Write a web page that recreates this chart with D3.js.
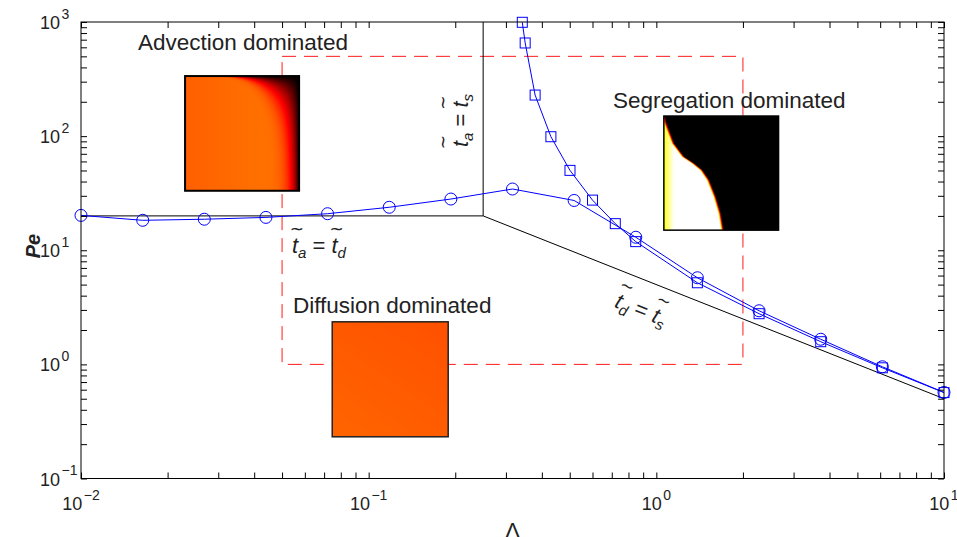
<!DOCTYPE html>
<html><head><meta charset="utf-8">
<script src="https://cdn.jsdelivr.net/npm/d3@7"></script>
<style>
body{margin:0;background:#fff}
svg{display:block}
text{font-family:"Liberation Sans",Arial,Helvetica,sans-serif}
</style>
</head><body>
<svg id="chart" width="957" height="537"></svg>
<script>
// ---------- data ----------
const lambdaCircles = [0.01, 0.01639, 0.02683, 0.04394, 0.07197, 0.1179, 0.1931, 0.3162, 0.5179, 0.8483, 1.389, 2.276, 3.728, 6.105, 10];
const peCircles     = [20.2, 18.3, 18.7, 19.4, 20.9, 23.8, 28.1, 34.4, 27.3, 13.0, 5.74, 2.95, 1.66, 0.953, 0.568];
const lambdaSquares = [0.342, 0.350, 0.379, 0.430, 0.501, 0.600, 0.720, 0.848, 1.389, 2.276, 3.728, 6.105, 10];
const peSquares     = [994, 655, 229, 98.8, 50.1, 27.5, 17.1, 11.9, 5.19, 2.78, 1.58, 0.933, 0.566];

// regime boundaries
const tatdLambda = [0.01, 0.25], tatdPe = [20, 20];
const tatsLambda = [0.25, 0.25], tatsPe = [20, 1000];
const tdtsLambda = [0.25, 10],   tdtsPe = [20, 0.5];
// dashed region
const regionLambda = [0.05, 2], regionPe = [1, 500];

// tick labels (exponents)
const xTickExps = [-2, -1, 0, 1];
const yTickExps = [-1, 0, 1, 2, 3];

// region labels
const regionLabels = ["Advection dominated", "Segregation dominated", "Diffusion dominated"];
const regionLabelLambda = [0.01578, 0.7063, 0.05455];
const regionLabelPe = [568, 176, 2.82];

// insets (data-space extents)
const insetNames = ["advection", "segregation", "diffusion"];
const insetLambdaLeft  = [0.023, 1.062, 0.0747];
const insetLambdaRight = [0.0573, 2.66, 0.189];
const insetPeTop    = [336, 150, 2.36];
const insetPeBottom = [33.2, 15.0, 0.232];
// segregation front shape (normalised inset coords)
const segFrontW = [0, 0.064, 0.24, 0.357, 0.415, 0.474, 0.561, 0.708, 0.854, 1.0];
const segFrontU = [0, 0.017, 0.081, 0.169, 0.256, 0.328, 0.387, 0.445, 0.488, 0.512];

// ---------- chart ----------
const svg = d3.select("#chart");
const x = d3.scaleLog().domain([0.01, 10]).range([81, 944]);
const y = d3.scaleLog().domain([0.1, 1000]).range([478.5, 22]);
const TXT = "#222";

function logTicks(lo, hi) {
  const t = [];
  for (let e = lo; e < hi; e++) for (let m = 1; m <= 9; m++) t.push(m * Math.pow(10, e));
  t.push(Math.pow(10, hi));
  return t;
}
const xt = logTicks(-2, 1), yt = logTicks(-1, 3);

// dashed region
svg.append("rect")
  .attr("x", x(regionLambda[0])).attr("y", y(regionPe[1]))
  .attr("width", x(regionLambda[1]) - x(regionLambda[0]))
  .attr("height", y(regionPe[0]) - y(regionPe[1]))
  .attr("fill", "none").attr("stroke", "#ff1a1a").attr("stroke-width", 1)
  .attr("stroke-dasharray", "14,8");

// insets
function hot(v) {
  v = Math.max(0, Math.min(1, v));
  const r = Math.min(1, v / 0.375);
  const g = Math.max(0, Math.min(1, (v - 0.375) / 0.375));
  const b = Math.max(0, Math.min(1, (v - 0.75) / 0.25));
  return [r * 255, g * 255, b * 255];
}
const smooth = (a, b, t) => { t = Math.max(0, Math.min(1, (t - a) / (b - a))); return t * t * (3 - 2 * t); };
const segInterp = d3.scaleLinear().domain(segFrontW).range(segFrontU);
const fields = {
  advection: (u, w) => {
    const base = 0.515 + 0.04 * Math.min(u, 0.85);
    const a = (1 - u) / 0.06;
    const tau = 0.4 * Math.pow(u, 5) + 0.0005;
    const b = w / tau;
    return base * (1 - Math.exp(-a)) * (1 - Math.exp(-b));
  },
  segregation: (u, w, pw) => {
    const xb = segInterp(w);
    const d = (xb - u) * pw;
    const e = Math.max(0, Math.min(1, (d + 1.2) / 3));
    const core = 0.8 + 0.2 * smooth(0.0, 0.1, u) * smooth(0.0, 0.2, w + 0.05);
    return core * e;
  },
  diffusion: (u, w) => 0.505 + 0.018 * w - 0.012 * u
};
insetNames.forEach((name, i) => {
  const x0 = x(insetLambdaLeft[i]), x1 = x(insetLambdaRight[i]);
  const y0 = y(insetPeTop[i]), y1 = y(insetPeBottom[i]);
  const pw = Math.round(x1 - x0), ph = Math.round(y1 - y0);
  const c = document.createElement("canvas");
  c.width = pw; c.height = ph;
  const ctx = c.getContext("2d");
  const img = ctx.createImageData(pw, ph);
  for (let j = 0; j < ph; j++) for (let k = 0; k < pw; k++) {
    const v = fields[name]((k + 0.5) / pw, (j + 0.5) / ph, pw);
    const col = hot(v), o = 4 * (j * pw + k);
    img.data[o] = col[0]; img.data[o + 1] = col[1]; img.data[o + 2] = col[2]; img.data[o + 3] = 255;
  }
  ctx.putImageData(img, 0, 0);
  svg.append("image").attr("href", c.toDataURL())
    .attr("x", x0).attr("y", y0).attr("width", x1 - x0).attr("height", y1 - y0)
    .attr("preserveAspectRatio", "none");
  svg.append("rect").attr("x", x0).attr("y", y0).attr("width", x1 - x0).attr("height", y1 - y0)
    .attr("fill", "none").attr("stroke", name === "diffusion" ? "#222" : "#000")
    .attr("stroke-width", name === "advection" ? 2 : 1.5);
});

// boundary lines
const line = d3.line().x(d => x(d[0])).y(d => y(d[1]));
[[tatdLambda, tatdPe], [tatsLambda, tatsPe], [tdtsLambda, tdtsPe]].forEach(([L, P]) => {
  svg.append("path").attr("d", line(d3.zip(L, P)))
    .attr("fill", "none").attr("stroke", "#000").attr("stroke-width", 1);
});

// series
const circ = d3.zip(lambdaCircles, peCircles);
const sq = d3.zip(lambdaSquares, peSquares);
svg.append("path").attr("d", line(circ)).attr("fill", "none").attr("stroke", "#0000ff").attr("stroke-width", 1);
svg.append("path").attr("d", line(sq)).attr("fill", "none").attr("stroke", "#0000ff").attr("stroke-width", 1);
svg.append("g").selectAll("circle").data(circ).join("circle")
  .attr("cx", d => x(d[0])).attr("cy", d => y(d[1])).attr("r", 6)
  .attr("fill", "none").attr("stroke", "#0000ff").attr("stroke-width", 1);
svg.append("g").selectAll("rect").data(sq).join("rect")
  .attr("x", d => x(d[0]) - 5).attr("y", d => y(d[1]) - 5).attr("width", 10).attr("height", 10)
  .attr("fill", "none").attr("stroke", "#0000ff").attr("stroke-width", 1);

// region labels
regionLabels.forEach((t, i) => {
  svg.append("text").attr("x", x(regionLabelLambda[i])).attr("y", y(regionLabelPe[i]))
    .attr("font-size", 22.5).attr("fill", TXT).text(t);
});

// tilde-time labels
function tildeLabel(tx, ty, angle, anchor, parts) {
  const g = svg.append("g").attr("transform", `translate(${tx},${ty}) rotate(${angle})`);
  const text = g.append("text").attr("font-size", 22).attr("fill", TXT)
    .attr("text-anchor", anchor).attr("style", "white-space:pre");
  let idx = 0, pend = 0;
  const tIdx = [];
  parts.forEach(p => {
    if (Array.isArray(p)) {
      text.append("tspan").attr("font-style", "italic").attr("dy", pend).text(p[0]);
      tIdx.push(idx); idx += 1;
      text.append("tspan").attr("font-style", "italic").attr("font-size", 15).attr("dy", 5).text(p[1]);
      idx += p[1].length; pend = -5;
    } else {
      text.append("tspan").attr("dy", pend).text(p);
      idx += p.length; pend = 0;
    }
  });
  tIdx.forEach(ti => {
    const ext = text.node().getExtentOfChar(ti);
    g.append("text").attr("x", ext.x + ext.width / 2 + 2).attr("y", -18.5)
      .attr("text-anchor", "middle").attr("font-size", 17)
      .style("font-family", "'DejaVu Sans',sans-serif").attr("fill", TXT).text("~");
  });
}
tildeLabel(x(0.2213), y(137), -90, "middle", [["t", "a"], " = ", ["t", "s"]]);
tildeLabel(x(0.0541), y(9.45), 0, "start", [["t", "a"], " = ", ["t", "d"]]);
tildeLabel(x(0.866), y(2.63), 21.4, "middle", [["t", "d"], " = ", ["t", "s"]]);

// axes ticks (inward, all four sides)
const fmt = () => "";
function axisG(gen, tr) {
  const g = svg.append("g").attr("transform", tr).call(gen);
  g.select(".domain").remove();
  g.selectAll("line").attr("stroke", "#000");
}
axisG(d3.axisBottom(x).tickValues(xt).tickSizeInner(-6).tickSizeOuter(0).tickFormat(fmt), `translate(0,${y(0.1)})`);
axisG(d3.axisTop(x).tickValues(xt).tickSizeInner(-6).tickSizeOuter(0).tickFormat(fmt), `translate(0,${y(1000)})`);
axisG(d3.axisLeft(y).tickValues(yt).tickSizeInner(-6).tickSizeOuter(0).tickFormat(fmt), `translate(${x(0.01)},0)`);
axisG(d3.axisRight(y).tickValues(yt).tickSizeInner(-6).tickSizeOuter(0).tickFormat(fmt), `translate(${x(10)},0)`);
svg.append("rect").attr("x", x(0.01)).attr("y", y(1000))
  .attr("width", x(10) - x(0.01)).attr("height", y(0.1) - y(1000))
  .attr("fill", "none").attr("stroke", "#000").attr("stroke-width", 1);

// tick labels
const sup = e => (e < 0 ? "\u2212" + (-e) : String(e));
xTickExps.forEach(e => {
  const t = svg.append("text").attr("x", x(Math.pow(10, e))).attr("y", y(0.1) + 31.5)
    .attr("text-anchor", "middle").attr("font-size", 18).attr("fill", TXT);
  t.append("tspan").text("10");
  t.append("tspan").attr("font-size", 14).attr("dx", 1.5).attr("dy", -10.5).text(sup(e));
});
yTickExps.forEach(e => {
  const t = svg.append("text").attr("x", 40).attr("y", y(Math.pow(10, e)) + 7)
    .attr("text-anchor", "start").attr("font-size", 18).attr("fill", TXT);
  t.append("tspan").text("10");
  t.append("tspan").attr("font-size", 14).attr("dx", 1.5).attr("dy", -10.5).text(sup(e));
});

// axis labels
svg.append("text").attr("transform", `translate(40,246) rotate(-90)`)
  .attr("text-anchor", "middle").attr("font-size", 20).attr("font-style", "italic")
  .attr("font-weight", "bold").attr("fill", TXT).text("Pe");
svg.append("text").attr("x", (x(0.01) + x(10)) / 2).attr("y", 537.5)
  .attr("text-anchor", "middle").attr("font-size", 22).attr("fill", TXT).text("\u039B");
</script>
</body></html>
